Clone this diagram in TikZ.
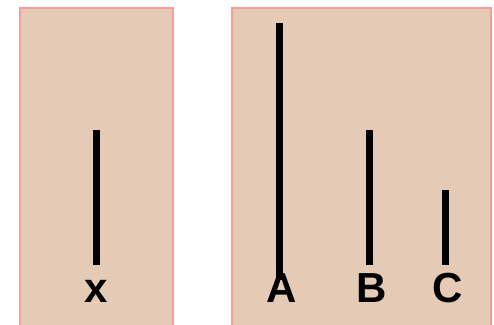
\documentclass[tikz,border=0pt]{standalone}
\usepackage{fontspec}
\setmainfont{Liberation Sans}
\definecolor{panelfill}{HTML}{E5CBB5}
\definecolor{panelborder}{HTML}{F59C9C}
\tikzset{
  panel/.style={fill=panelfill, draw=panelborder, line width=2.2pt},
  stick/.style={line width=7pt, draw=black},
  lab/.style={font=\bfseries\fontsize{42}{42}\selectfont, inner sep=0pt, anchor=base}
}
\begin{document}
\begin{tikzpicture}[x=1pt,y=-1pt]
\useasboundingbox (0,0) rectangle (494,324);
\clip (0,0) rectangle (494,324);
\draw[panel] (20,8) rectangle (173,340);
\draw[panel] (232,8) rectangle (491,340);
\coordinate (x1) at (96,130);
\coordinate (x2) at (96,265);
\coordinate (a1) at (279,23);
\coordinate (a2) at (279,280);
\coordinate (b1) at (369,130);
\coordinate (b2) at (369,265);
\coordinate (c1) at (445,190);
\coordinate (c2) at (445,265);
\draw[stick] (x1) -- (x2);
\draw[stick] (a1) -- (a2);
\draw[stick] (b1) -- (b2);
\draw[stick] (c1) -- (c2);
\node[lab] (lx) at (96,302) {x};
\node[lab] (la) at (282,302) {A};
\node[lab] (lb) at (372,302) {B};
\node[lab] (lc) at (448,302) {C};
\end{tikzpicture}
\end{document}
